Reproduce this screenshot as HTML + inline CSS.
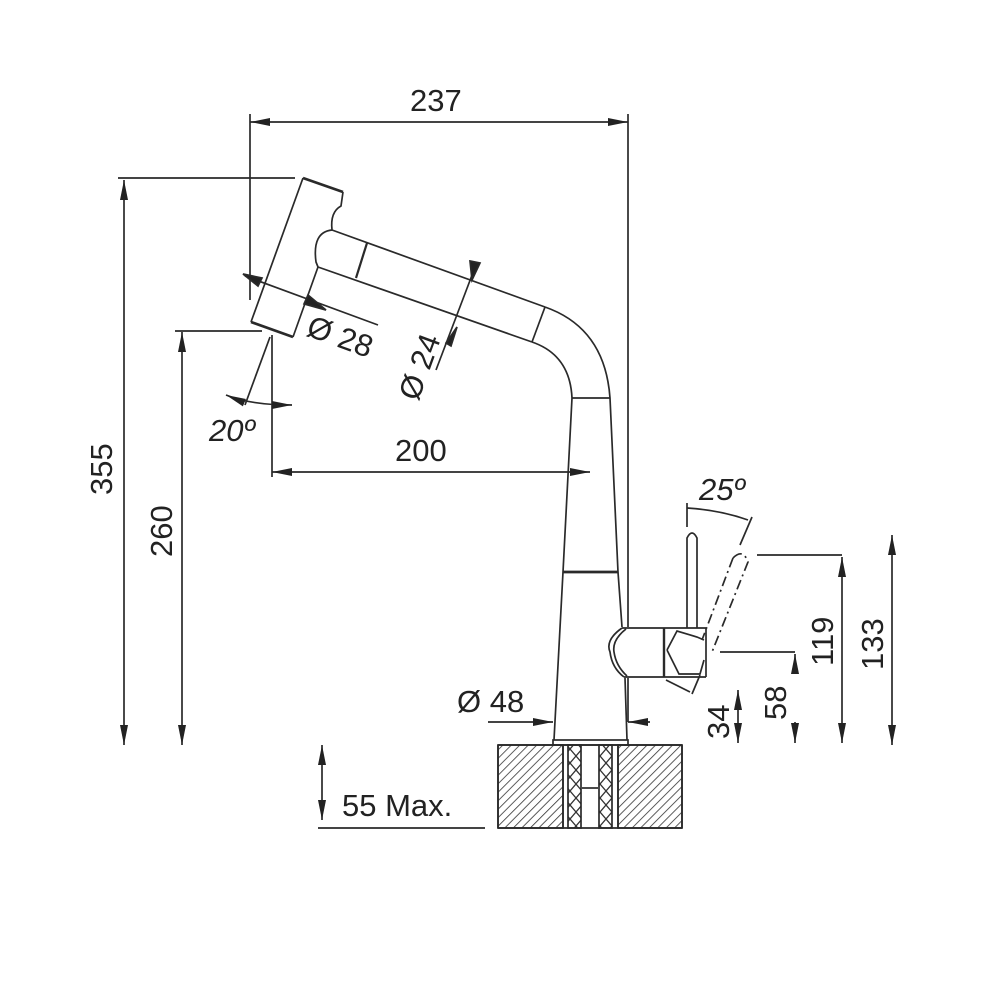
<!DOCTYPE html>
<html><head><meta charset="utf-8"><style>
html,body{margin:0;padding:0;background:#fff;}
svg{display:block;}
text{font-family:"Liberation Sans",Arial,sans-serif;fill:#222;font-size:31px;}
</style></head><body>
<svg width="1000" height="1000" viewBox="0 0 1000 1000" xmlns="http://www.w3.org/2000/svg">
<defs>
<marker id="a" viewBox="0 0 20 8" refX="20" refY="4" markerWidth="20" markerHeight="8" markerUnits="userSpaceOnUse" orient="auto-start-reverse"><path d="M0,0 L20,4 L0,8 z" fill="#222"/></marker>
<pattern id="h" width="6" height="6" patternUnits="userSpaceOnUse" patternTransform="rotate(45)"><line x1="0" y1="0" x2="0" y2="6" stroke="#333" stroke-width="1.6"/></pattern>
<pattern id="x" width="12" height="14" patternUnits="userSpaceOnUse"><path d="M0,0 L12,14 M12,0 L0,14" stroke="#333" stroke-width="1.3" fill="none"/></pattern>
</defs>
<g stroke="#2a2a2a" stroke-width="1.7" fill="none">
<!-- 237 -->
<line x1="250" y1="122" x2="628" y2="122" marker-start="url(#a)" marker-end="url(#a)"/>
<line x1="250" y1="114" x2="250" y2="300"/>
<line x1="628" y1="114" x2="628" y2="627"/>
<line x1="628" y1="678" x2="628" y2="722"/>
<!-- 355 -->
<line x1="124" y1="180" x2="124" y2="745" marker-start="url(#a)" marker-end="url(#a)"/>
<line x1="118" y1="178" x2="295" y2="178"/>
<!-- 260 -->
<line x1="182" y1="332" x2="182" y2="745" marker-start="url(#a)" marker-end="url(#a)"/>
<line x1="175" y1="331" x2="262" y2="331"/>
<!-- 200 -->
<line x1="272" y1="335" x2="272" y2="477"/>
<line x1="272" y1="472" x2="590" y2="472" marker-start="url(#a)" marker-end="url(#a)"/>
<!-- 20 deg -->
<line x1="270" y1="337" x2="245" y2="405"/>
<path d="M226,395 Q250,405 292,405" marker-start="url(#a)" marker-end="url(#a)"/>
<!-- spray head -->
<path d="M303,178 L251,322" />
<path d="M251,322 L293,337" stroke-width="2.7"/>
<path d="M293,337 L318,267"/>
<path d="M303,178 L343,192" stroke-width="2.7"/>
<path d="M343,192 L341,206 Q330,212 332,230"/>
<path d="M332,230 Q312,232 316,262 L318,267"/>
<!-- hose -->
<line x1="332" y1="230" x2="545" y2="307"/>
<line x1="318" y1="267" x2="532" y2="342"/>
<line x1="367" y1="243" x2="356" y2="278" stroke-width="2.2"/>
<line x1="545" y1="307" x2="532" y2="342"/>
<path d="M545,307 Q605,328 610,398"/>
<path d="M532,342 Q570,355 572,398"/>
<line x1="572" y1="398" x2="610" y2="398"/>
<!-- Ø28 dim -->
<line x1="245" y1="276" x2="378" y2="325" />
<path d="M243,274 L262,278 L258,286 z" fill="#222"/>
<path d="M304,296 L326,302 L322,311 z" fill="#222" transform="rotate(180 315 303)"/>
<!-- Ø24 dim -->
<line x1="477" y1="262" x2="436" y2="370"/>
<path d="M470,261 L480,263 L472,280 z" fill="#222"/>
<path d="M446,343 L457,327 L451,346 z" fill="#222"/>
<!-- body -->
<path d="M572,398 L563,572 L554,740"/>
<path d="M610,398 L618,572 L622,627"/>
<path d="M625,678 L627,740"/>
<line x1="563" y1="572" x2="618" y2="572" stroke-width="2.7"/>
<rect x="553" y="740" width="75" height="5"/>
<!-- Ø48 -->
<line x1="488" y1="722" x2="553" y2="722" marker-end="url(#a)"/>
<line x1="650" y1="722" x2="628" y2="722" marker-end="url(#a)"/>
<!-- handle -->
<path d="M622,628 Q605,640 610,652 Q612,668 624,677"/>
<path d="M626,629 Q612,640 614,652 Q616,666 627,676"/>
<line x1="622" y1="628" x2="706" y2="628"/>
<line x1="624" y1="677" x2="706" y2="677"/>
<line x1="664" y1="628" x2="664" y2="677" stroke-width="2.4"/>
<line x1="706" y1="628" x2="706" y2="677"/>
<path d="M667,650 L677,631 L697,637 L704,640 M667,650 L679,674 L700,674 L704,660"/>
<path d="M666,680 L690,692 M700,675 L692,694"/>
<path d="M687,628 L687,538 Q692,528 697,538 L697,628"/>
<path d="M733,558 Q743,548 748,562 L712,652" stroke-dasharray="10,4,2,4"/>
<path d="M733,558 L702,640" stroke-dasharray="10,4,2,4"/>
<!-- 25 deg -->
<line x1="687" y1="503" x2="687" y2="527"/>
<line x1="752" y1="517" x2="740" y2="545"/>
<path d="M687,508 Q720,510 748,520"/>
<!-- right dims -->
<line x1="757" y1="555" x2="842" y2="555"/>
<line x1="842" y1="557" x2="842" y2="743" marker-start="url(#a)" marker-end="url(#a)"/>
<line x1="892" y1="535" x2="892" y2="745" marker-start="url(#a)" marker-end="url(#a)"/>
<line x1="720" y1="652" x2="795" y2="652"/>
<line x1="795" y1="672" x2="795" y2="654" marker-end="url(#a)"/>
<line x1="795" y1="722" x2="795" y2="743" marker-end="url(#a)"/>
<line x1="738" y1="690" x2="738" y2="743" marker-start="url(#a)" marker-end="url(#a)"/>
<!-- counter -->
<rect x="498" y="745" width="65" height="83" fill="url(#h)"/>
<rect x="618" y="745" width="64" height="83" fill="url(#h)"/>
<rect x="568" y="745" width="13" height="83" fill="url(#x)"/>
<rect x="599" y="745" width="13" height="83" fill="url(#x)"/>
<line x1="498" y1="745" x2="682" y2="745"/>
<line x1="498" y1="828" x2="682" y2="828"/>
<line x1="498" y1="745" x2="498" y2="828"/>
<line x1="682" y1="745" x2="682" y2="828"/>
<line x1="563" y1="745" x2="563" y2="828"/>
<line x1="618" y1="745" x2="618" y2="828"/>
<line x1="582" y1="788" x2="598" y2="788"/>
<!-- 55 max -->
<line x1="322" y1="745" x2="322" y2="820" marker-start="url(#a)" marker-end="url(#a)"/>
<line x1="318" y1="828" x2="485" y2="828"/>
</g>
<text x="410" y="111">237</text>
<text x="395" y="461">200</text>
<text x="342" y="816">55 Max.</text>
<text x="209" y="441" font-style="italic">20º</text>
<text x="699" y="500" font-style="italic">25º</text>
<text x="457" y="712">Ø 48</text>
<text transform="translate(112,495) rotate(-90)">355</text>
<text transform="translate(172,557) rotate(-90)">260</text>
<text transform="translate(305,335) rotate(20)">Ø 28</text>
<text transform="translate(418,402) rotate(-70)">Ø 24</text>
<text transform="translate(833,666) rotate(-90)">119</text>
<text transform="translate(883,670) rotate(-90)">133</text>
<text transform="translate(786,720) rotate(-90)">58</text>
<text transform="translate(729,739) rotate(-90)">34</text>
</svg>
</body></html>
